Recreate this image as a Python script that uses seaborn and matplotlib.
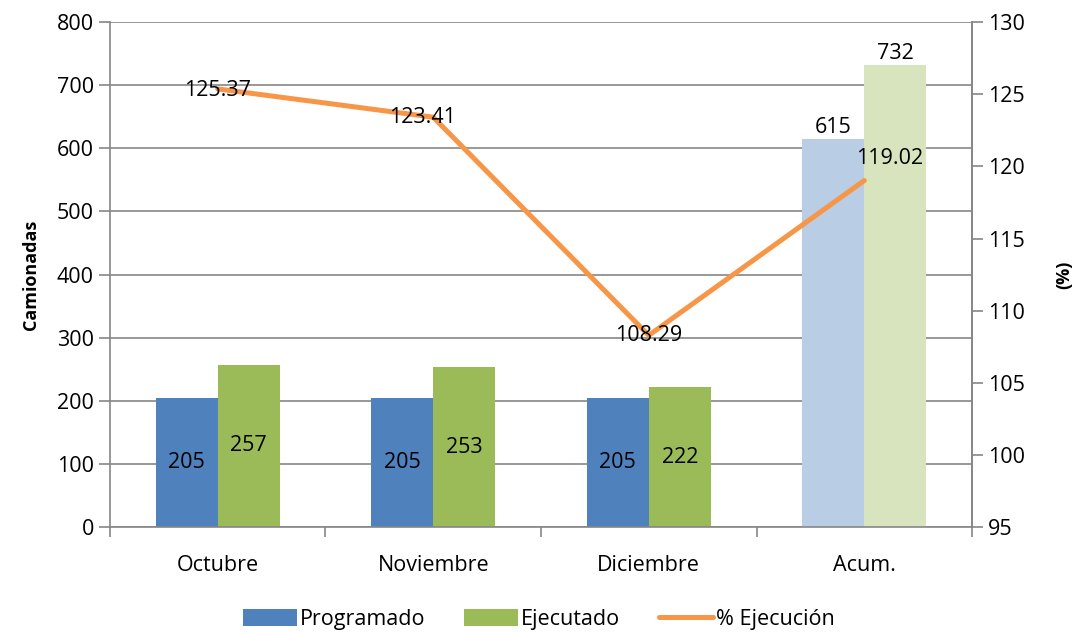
import numpy as np
import pandas as pd
import matplotlib
matplotlib.use("Agg")
import matplotlib.pyplot as plt
import seaborn as sns
from matplotlib.patches import Patch
from matplotlib.lines import Line2D

# =========================
# DATA
# =========================
categorias = ["Octubre", "Noviembre", "Diciembre", "Acum."]
programado = [205, 205, 205, 615]
ejecutado = [257, 253, 222, 732]
pct_ejecucion = [125.37, 123.41, 108.29, 119.02]

series = ["Programado", "Ejecutado"]
left_ticks = [0, 100, 200, 300, 400, 500, 600, 700, 800]
right_ticks = [95, 100, 105, 110, 115, 120, 125, 130]

df = pd.DataFrame({
    "categoria": categorias * 2,
    "serie": [series[0]] * 4 + [series[1]] * 4,
    "valor": programado + ejecutado,
})

# colores estilo Excel
azul = "#4F81BD"
verde = "#9BBB59"
naranja = "#F79646"
azul_claro = "#B9CDE5"
verde_claro = "#D7E4BD"
gris = "#868686"

sns.set_style("white")
plt.rcParams["font.family"] = ["Open Sans", "DejaVu Sans"]
plt.rcParams["text.color"] = "black"
plt.rcParams["axes.labelcolor"] = "black"
plt.rcParams["xtick.labelcolor"] = "black"
plt.rcParams["ytick.labelcolor"] = "black"

fs = 15.5

fig, ax = plt.subplots(figsize=(10.78, 6.32), dpi=100)
fig.subplots_adjust(left=0.102, right=0.9017, top=0.965, bottom=0.166)

sns.barplot(
    data=df, x="categoria", y="valor", hue="serie",
    palette=[azul, verde], width=0.575, saturation=1,
    ax=ax, legend=False,
)

# barras del acumulado en tono claro
ax.containers[0][3].set_facecolor(azul_claro)
ax.containers[1][3].set_facecolor(verde_claro)
for cont in ax.containers:
    for p in cont:
        p.set_edgecolor("none")

# etiquetas de barras
for cont, vals in zip(ax.containers, [programado, ejecutado]):
    ax.bar_label(cont, labels=[str(v) for v in vals[:3]] + [""],
                 label_type="center", fontsize=fs)
    ax.bar_label(cont, labels=["", "", "", str(vals[3])],
                 label_type="edge", padding=1, fontsize=fs)

ax.set_ylim(0, 800)
ax.set_yticks(left_ticks)
ax.set_xlim(-0.5, 3.5)
ax.set_xlabel("")
ax.set_ylabel("Camionadas", fontsize=13, fontweight="bold", labelpad=12)
ax.yaxis.grid(True, color=gris, linewidth=1.2)
ax.set_axisbelow(True)

ax.tick_params(axis="y", labelsize=fs, length=8, color=gris, width=1.2, left=True)
ax.tick_params(axis="x", which="major", labelsize=fs, length=0, pad=20)
ax.set_xticks(np.arange(-0.5, 4, 1), minor=True)
ax.tick_params(axis="x", which="minor", length=7, color=gris, width=1.2, bottom=True)

ax.spines["top"].set_visible(False)
for s in ["left", "bottom", "right"]:
    ax.spines[s].set_color(gris)
    ax.spines[s].set_linewidth(1.2)

# =========================
# LINEA % EJECUCION
# =========================
ax2 = ax.twinx()
sns.lineplot(x=np.arange(len(categorias)), y=pct_ejecucion, color=naranja,
             linewidth=3.6, ax=ax2)
ax2.set_ylim(95, 130)
ax2.set_yticks(right_ticks)
ax2.set_ylabel("(%)", fontsize=13, fontweight="bold", labelpad=22)
ax2.tick_params(axis="y", labelsize=fs, length=8, color=gris, width=1.2, right=True)
for s in ["top", "left", "bottom"]:
    ax2.spines[s].set_visible(False)
ax2.spines["right"].set_color(gris)
ax2.spines["right"].set_linewidth(1.2)

offsets = [(0, -1), (-8, 0), (0, 0), (18, 16)]
for i, (v, off) in enumerate(zip(pct_ejecucion, offsets)):
    ax2.annotate(f"{v:.2f}", (i, v), xytext=off, textcoords="offset points",
                 ha="center", va="center", fontsize=fs)

# =========================
# LEYENDA
# =========================
handles = [
    Patch(facecolor=azul, edgecolor="none"),
    Patch(facecolor=verde, edgecolor="none"),
    Line2D([0], [0], color=naranja, linewidth=3.6),
]
fig.legend(handles, ["Programado", "Ejecutado", "% Ejecución"],
           loc="lower center", bbox_to_anchor=(0.5, -0.028), ncol=3,
           frameon=False, fontsize=fs, handlelength=2.5, handleheight=0.85,
           handletextpad=0.15, columnspacing=1.8)

fig.savefig("out.png", dpi=100)
